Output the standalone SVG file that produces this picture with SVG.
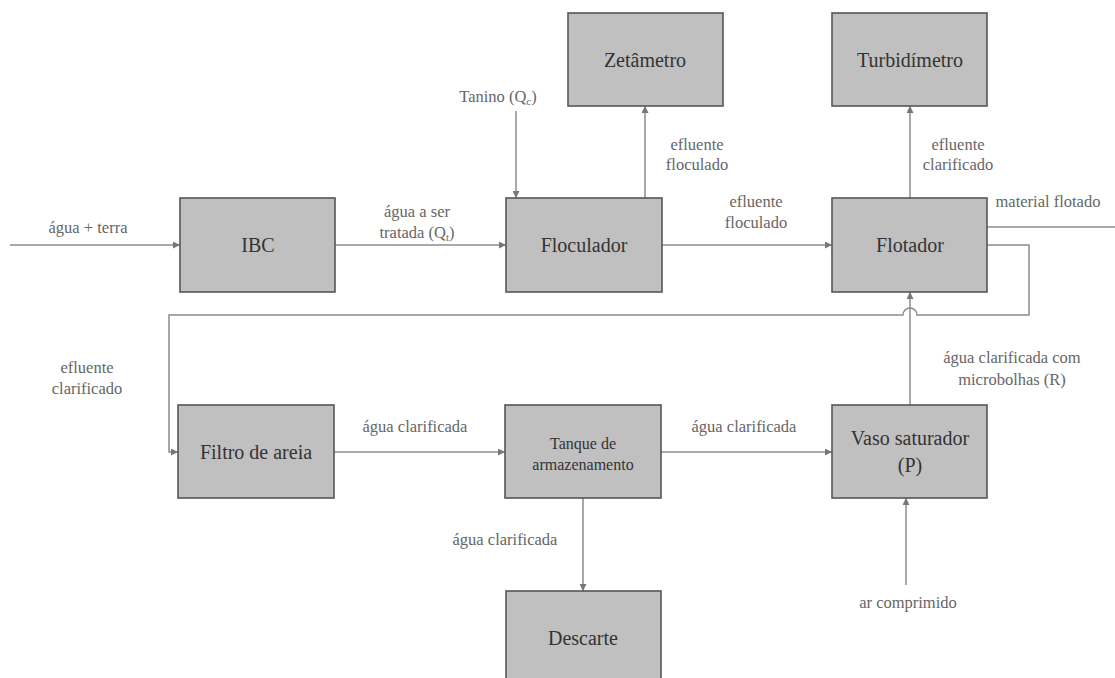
<svg xmlns="http://www.w3.org/2000/svg" width="1115" height="678" viewBox="0 0 1115 678">
<defs>
<style>
text{font-family:"Liberation Serif","Times New Roman",serif}
.box{fill:#c0c0c0;stroke:#555;stroke-width:1.6}
.bt{font-size:20px;fill:#333;text-anchor:middle}
.bs{font-size:16px;fill:#333;text-anchor:middle}
.lb{font-size:16.5px;fill:#666;text-anchor:middle}
.ln{fill:none;stroke:#8c8c8c;stroke-width:1.5}
.sub{font-size:11px}
</style>
<marker id="ar" viewBox="0 0 10 10" refX="10" refY="5" markerWidth="7" markerHeight="7" markerUnits="userSpaceOnUse" orient="auto">
<path d="M0,0 L10,5 L0,10 z" fill="#777"/>
</marker>
</defs>
<rect width="1115" height="678" fill="#fff"/>
<g id="connectors">
<path class="ln" d="M10,245 H180" marker-end="url(#ar)"/>
<path class="ln" d="M335,245 H506" marker-end="url(#ar)"/>
<path class="ln" d="M516,111 V198" marker-end="url(#ar)"/>
<path class="ln" d="M645,198 V106" marker-end="url(#ar)"/>
<path class="ln" d="M662,245 H832" marker-end="url(#ar)"/>
<path class="ln" d="M910,198 V106" marker-end="url(#ar)"/>
<path class="ln" d="M987,227 H1115"/>
<path class="ln" d="M987,245 H1029 V315 H917 A7,7 0 0 0 903,315 H169 V452 H178" marker-end="url(#ar)"/>
<path class="ln" d="M334,452 H505" marker-end="url(#ar)"/>
<path class="ln" d="M661,452 H832" marker-end="url(#ar)"/>
<path class="ln" d="M910,405 V292" marker-end="url(#ar)"/>
<path class="ln" d="M583,498 V591" marker-end="url(#ar)"/>
<path class="ln" d="M906,585 V498" marker-end="url(#ar)"/>
</g>
<g id="labels">
<text class="lb" x="88" y="233">água + terra</text>
<text class="lb" x="417" y="217">água a ser</text>
<text class="lb" x="417" y="238">tratada (Q<tspan class="sub" dy="3">t</tspan><tspan dy="-3">)</tspan></text>
<text class="lb" x="498" y="102">Tanino (Q<tspan class="sub" dy="3">c</tspan><tspan dy="-3">)</tspan></text>
<text class="lb" x="697" y="150">efluente</text>
<text class="lb" x="697" y="170">floculado</text>
<text class="lb" x="958" y="150">efluente</text>
<text class="lb" x="958" y="170">clarificado</text>
<text class="lb" x="756" y="207">efluente</text>
<text class="lb" x="756" y="228">floculado</text>
<text class="lb" x="1048" y="207">material flotado</text>
<text class="lb" x="87" y="373">efluente</text>
<text class="lb" x="87" y="394">clarificado</text>
<text class="lb" x="415" y="432">água clarificada</text>
<text class="lb" x="744" y="432">água clarificada</text>
<text class="lb" x="1012" y="363">água clarificada com</text>
<text class="lb" x="1012" y="385">microbolhas (R)</text>
<text class="lb" x="505" y="545">água clarificada</text>
<text class="lb" x="908" y="608">ar comprimido</text>
</g>
<g id="zetametro"><rect class="box" x="568" y="13" width="155" height="93"/><text class="bt" x="645" y="67">Zetâmetro</text></g>
<g id="turbidimetro"><rect class="box" x="832" y="13" width="155" height="93"/><text class="bt" x="910" y="67">Turbidímetro</text></g>
<g id="ibc"><rect class="box" x="180" y="198" width="155" height="94"/><text class="bt" x="258" y="252">IBC</text></g>
<g id="floculador"><rect class="box" x="506" y="198" width="156" height="94"/><text class="bt" x="584" y="252">Floculador</text></g>
<g id="flotador"><rect class="box" x="832" y="198" width="155" height="94"/><text class="bt" x="910" y="252">Flotador</text></g>
<g id="filtro"><rect class="box" x="178" y="405" width="156" height="93"/><text class="bt" x="256" y="459">Filtro de areia</text></g>
<g id="tanque"><rect class="box" x="505" y="405" width="156" height="93"/><text class="bs" x="583" y="449">Tanque de</text><text class="bs" x="583" y="470">armazenamento</text></g>
<g id="vaso"><rect class="box" x="832" y="405" width="155" height="93"/><text class="bt" x="910" y="445">Vaso saturador</text><text class="bt" x="910" y="472">(P)</text></g>
<g id="descarte"><rect class="box" x="506" y="591" width="155" height="94"/><text class="bt" x="583" y="645">Descarte</text></g>
</svg>
